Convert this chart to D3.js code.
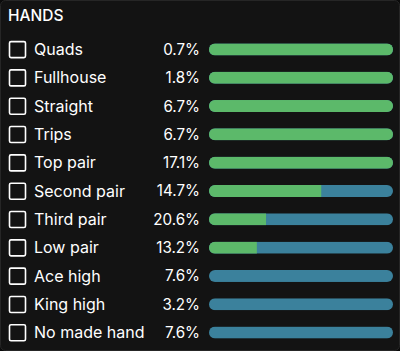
<!DOCTYPE html>
<html><head><meta charset="utf-8">
<script src="https://cdn.jsdelivr.net/npm/d3@7"></script>
<style>
html,body{margin:0;padding:0;background:#0b0b0b;}
svg{display:block;}
text{font-family:Inter, "Noto Sans", sans-serif;}
</style></head>
<body>
<svg id="c" width="400" height="351"></svg>
<script>
const categories = ["Quads","Fullhouse","Straight","Trips","Top pair","Second pair","Third pair","Low pair","Ace high","King high","No made hand"];
const percents = [0.7,1.8,6.7,6.7,17.1,14.7,20.6,13.2,7.6,3.2,7.6];
const madeShare = [1,1,1,1,1,0.61,0.31,0.26,0,0,0];
const title = "HANDS";

const W = 400, H = 351;
const svg = d3.select("#c");
svg.append("rect").attr("x",0.5).attr("y",0.5).attr("width",W-1).attr("height",H-1)
  .attr("rx",5).attr("fill","#131313").attr("stroke","#262626");

svg.append("text").attr("x",8).attr("y",21).attr("fill","#fff")
  .attr("font-size",15.5).attr("font-weight",500).text(title);

const y = d3.scalePoint().domain(categories).range([49.4, 332.6]);
const x = d3.scaleLinear().domain([0,1]).range([209, 393]);
const barH = 12;

const rows = svg.selectAll("g.row").data(categories.map((c,i)=>({c,p:percents[i],m:madeShare[i]})))
  .enter().append("g").attr("class","row").attr("transform",d=>`translate(0,${y(d.c)})`);

rows.append("rect").attr("x",9.5).attr("y",-7.8).attr("width",16).attr("height",16)
  .attr("rx",1.5).attr("fill","none").attr("stroke","#fff").attr("stroke-width",1.6);

rows.append("text").attr("x",34).attr("y",0).attr("dy","0.36em").attr("fill","#fff")
  .attr("font-size",16).attr("font-weight",400).text(d=>d.c);

rows.append("text").attr("x",200).attr("y",0).attr("dy","0.36em").attr("text-anchor","end")
  .attr("fill","#fff").attr("font-size",15.2).attr("font-weight",400).text(d=>d.p.toFixed(1)+"%");

const defs = svg.append("defs");
rows.each(function(d,i){
  const g = d3.select(this);
  const id = "clip"+i;
  defs.append("clipPath").attr("id",id).append("rect")
    .attr("x",x(0)).attr("y",y(d.c)-barH/2).attr("width",x(1)-x(0)).attr("height",barH).attr("rx",barH/2);
  const gg = g.append("g").attr("clip-path",`url(#${id})`).attr("transform",`translate(0,${-y(d.c)})`);
  gg.append("rect").attr("x",x(0)).attr("y",y(d.c)-barH/2).attr("width",x(1)-x(0)).attr("height",barH).attr("fill","#3b819c");
  gg.append("rect").attr("x",x(0)).attr("y",y(d.c)-barH/2).attr("width",x(d.m)-x(0)).attr("height",barH).attr("fill","#5cb96a");
});
</script>
</body></html>
